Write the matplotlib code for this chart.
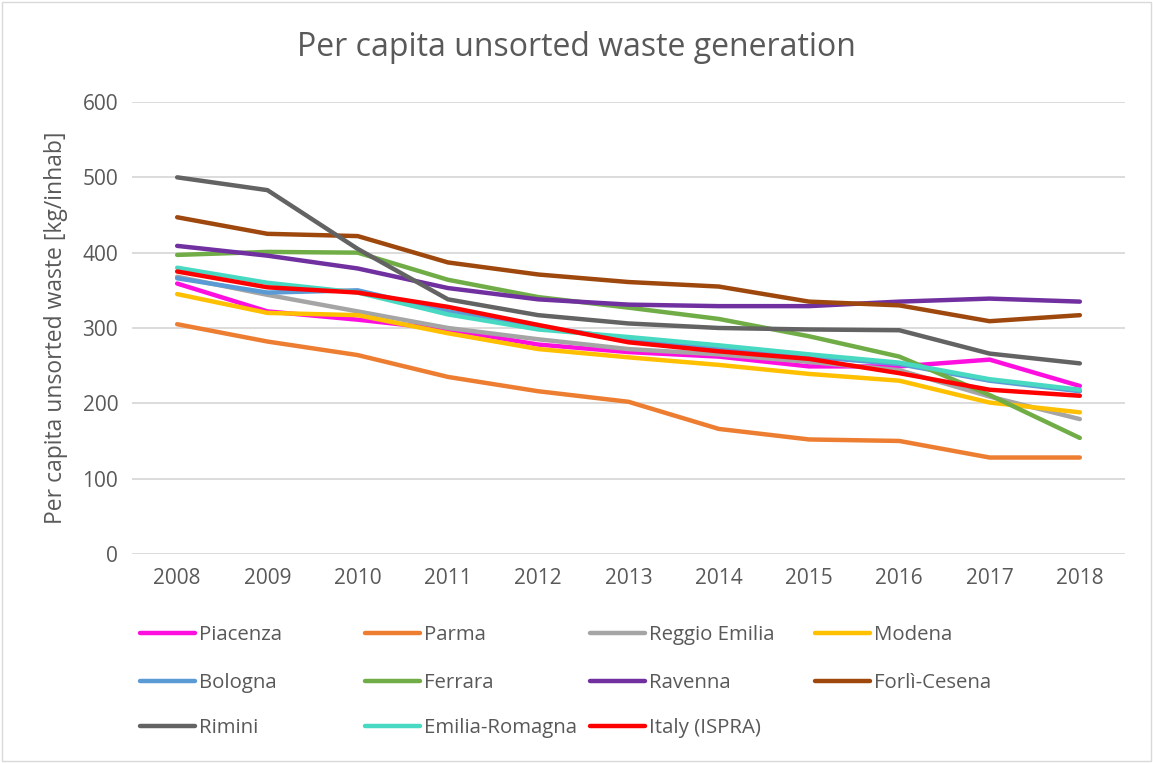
import matplotlib
matplotlib.use("Agg")
import matplotlib.pyplot as plt
from matplotlib.patches import Rectangle

plt.rcParams['font.family'] = ['Open Sans', 'DejaVu Sans']

years = [2008, 2009, 2010, 2011, 2012, 2013, 2014, 2015, 2016, 2017, 2018]

piacenza = [359, 322, 311, 298, 278, 268, 262, 249, 249, 258, 223]
parma = [305, 282, 264, 235, 216, 202, 166, 152, 150, 128, 128]
reggio_emilia = [368, 344, 322, 300, 285, 272, 265, 255, 244, 209, 179]
modena = [345, 320, 317, 293, 272, 261, 251, 239, 230, 201, 188]
bologna = [366, 347, 350, 322, 302, 285, 273, 262, 252, 230, 216]
ferrara = [397, 401, 400, 364, 341, 327, 312, 289, 262, 211, 154]
ravenna = [409, 396, 379, 353, 338, 331, 329, 329, 335, 339, 335]
forli_cesena = [447, 425, 422, 387, 371, 361, 355, 335, 330, 309, 317]
rimini = [500, 483, 405, 338, 317, 306, 300, 298, 297, 266, 253]
emilia_romagna = [380, 360, 347, 318, 298, 288, 277, 265, 254, 232, 218]
italy = [375, 354, 347, 328, 304, 281, 269, 259, 240, 218, 210]

series = [
    ("Piacenza", piacenza, "#FF0FDF"),
    ("Parma", parma, "#ED7D31"),
    ("Reggio Emilia", reggio_emilia, "#A5A5A5"),
    ("Modena", modena, "#FFC000"),
    ("Bologna", bologna, "#5B9BD5"),
    ("Ferrara", ferrara, "#70AD47"),
    ("Ravenna", ravenna, "#7030A0"),
    ("Forlì-Cesena", forli_cesena, "#9E480E"),
    ("Rimini", rimini, "#636363"),
    ("Emilia-Romagna", emilia_romagna, "#48D9C2"),
    ("Italy (ISPRA)", italy, "#FF0000"),
]

text_col = "#595959"

fig = plt.figure(figsize=(11.53, 7.63), dpi=100)
ax = fig.add_axes([0.1145, 0.274, 0.8612, 0.5923])

lines = []
for name, vals, col in series:
    ln, = ax.plot(years, vals, color=col, lw=3.2, label=name,
                  solid_capstyle='round', solid_joinstyle='round')
    lines.append(ln)

ax.set_xlim(2007.5, 2018.5)
ax.set_ylim(0, 600)
ax.set_xticks(years)
ax.set_yticks(range(0, 601, 100))
ax.tick_params(axis='both', length=0, labelsize=15, colors=text_col, pad=10)
ax.grid(axis='y', color='#D9D9D9', lw=1.3)
ax.set_axisbelow(True)
for s in ax.spines.values():
    s.set_visible(False)

ax.set_ylabel("Per capita unsorted waste [kg/inhab]", fontsize=16.5,
              color=text_col, labelpad=10)
fig.text(0.5, 0.938, "Per capita unsorted waste generation", ha='center',
         va='center', fontsize=23, color=text_col)

# legend laid out row by row, 4 entries per row on a fixed grid
col_x = [0.1214, 0.3165, 0.5116, 0.7067]
row_y = [0.1678, 0.1048, 0.0459]
for i, (ln, (name, _, _)) in enumerate(zip(lines, series)):
    leg = fig.legend([ln], [name], loc='center left',
                     bbox_to_anchor=(col_x[i % 4], row_y[i // 4]),
                     frameon=False, fontsize=14.7, handlelength=2.7,
                     handletextpad=0.2, borderpad=0, borderaxespad=0)
    for t in leg.get_texts():
        t.set_color(text_col)

fig.add_artist(Rectangle((0.002, 0.002), 0.996, 0.996, transform=fig.transFigure,
                         fill=False, ec='#D9D9D9', lw=1))

fig.savefig("out.png", dpi=100)
